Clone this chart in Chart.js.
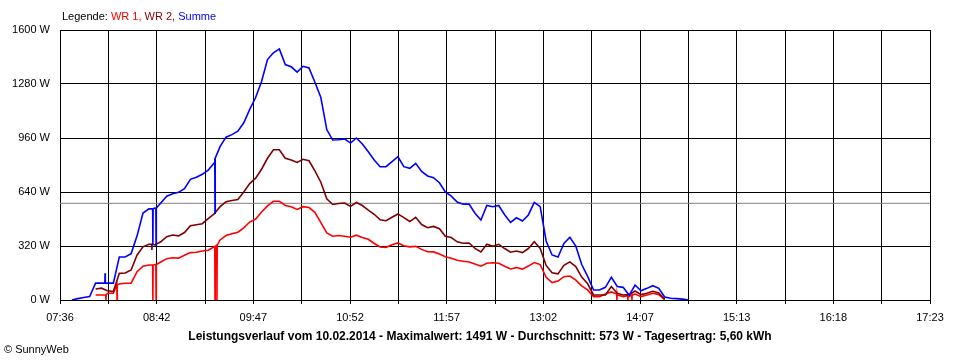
<!DOCTYPE html>
<html>
<head>
<meta charset="utf-8">
<script src="https://cdn.jsdelivr.net/npm/chart.js@4.4.1/dist/chart.umd.min.js"></script>
<style>
  body { margin: 0; background: #fff; }
  #wrap { position: relative; width: 960px; height: 360px; font-family: "Liberation Sans", Arial, sans-serif; font-size: 11px; color: #000; }
  #legende { position: absolute; left: 62px; top: 10px; }
  #titel { position: absolute; left: 0; width: 960px; top: 329px; text-align: center; font-weight: bold; font-size: 12px; }
  #copy { position: absolute; left: 4px; top: 343px; }
</style>
</head>
<body>
<div id="wrap">
  <canvas id="chart" width="960" height="360"></canvas>
  <div id="legende">Legende: <span style="color:#ff0000">WR 1,</span> <span style="color:#800000">WR 2,</span> <span style="color:#0000ff">Summe</span></div>
  <div id="titel">Leistungsverlauf vom 10.02.2014 - Maximalwert: 1491 W - Durchschnitt: 573 W - Tagesertrag: 5,60 kWh</div>
  <div id="copy">© SunnyWeb</div>
</div>
<script>
// Achsenbeschriftung
const timeLabels = ["07:36", "08:42", "09:47", "10:52", "11:57", "13:02", "14:07", "15:13", "16:18", "17:23"];
const yTicks = [0, 320, 640, 960, 1280, 1600];
const average = 573;

// Messzeitpunkte (alle 4 Minuten)
const times = [
  "07:40", "07:44", "07:48", "07:52", "07:56", "08:00", "08:04", "08:08", "08:12", "08:16",
  "08:20", "08:24", "08:28", "08:32", "08:36", "08:40", "08:44", "08:48", "08:52", "08:56",
  "09:00", "09:04", "09:08", "09:12", "09:16", "09:20", "09:24", "09:28", "09:32", "09:36",
  "09:40", "09:44", "09:48", "09:52", "09:56", "10:00", "10:04", "10:08", "10:12", "10:16",
  "10:20", "10:24", "10:28", "10:32", "10:36", "10:40", "10:44", "10:48", "10:52", "10:56",
  "11:00", "11:04", "11:08", "11:12", "11:16", "11:20", "11:24", "11:28", "11:32", "11:36",
  "11:40", "11:44", "11:48", "11:52", "11:56", "12:00", "12:04", "12:08", "12:12", "12:16",
  "12:20", "12:24", "12:28", "12:32", "12:36", "12:40", "12:44", "12:48", "12:52", "12:56",
  "13:00", "13:04", "13:08", "13:12", "13:16", "13:20", "13:24", "13:28", "13:32", "13:36",
  "13:40", "13:44", "13:48", "13:52", "13:56", "14:00", "14:04", "14:08", "14:12", "14:16",
  "14:20", "14:24", "14:28", "14:32", "14:36", "14:40"
];

// Leistung in W
const summe = [
  null, 0, 8, 15, 20, 100, 100, 100, 100, 255,
  255, 275, 380, 515, 540, 545, 575, 615, 630, 638,
  660, 715, 728, 745, 770, 812, 909, 965, 980, 1000,
  1050, 1130, 1200, 1295, 1425, 1465, 1488, 1395, 1382, 1350,
  1385, 1375, 1290, 1200, 1010, 948, 950, 955, 930, 960,
  925, 879, 830, 790, 790, 820, 849, 790, 780, 810,
  762, 735, 725, 695, 640, 615, 580, 568, 569, 514,
  474, 560, 553, 560, 505, 460, 487, 468, 504, 578,
  553, 350, 267, 255, 335, 372, 320, 210, 140, 59,
  59, 75, 135, 80, 75, 28, 89, 55, 69, 85,
  69, 18, 10, 8, 5, 0
];
const wr2 = [
  null, null, null, null, null, 65, 70, 55, 50, 158,
  160, 178, 267, 315, 330, 326, 345, 375, 385, 380,
  400, 440, 446, 452, 482, 510, 553, 582, 590, 595,
  640, 690, 722, 775, 840, 890, 890, 840, 830, 815,
  834, 825, 765, 698, 600, 566, 572, 575, 555, 578,
  560, 533, 508, 475, 470, 490, 510, 488, 465, 490,
  447, 428, 436, 422, 378, 370, 345, 336, 338, 306,
  285, 330, 318, 330, 305, 283, 290, 281, 305, 345,
  305, 205, 162, 155, 205, 226, 198, 136, 96, 30,
  30, 30, 80, 40, 30, 32, 53, 32, 40, 52,
  42, 5, null, null, null, null
];
const wr1 = [
  null, null, null, null, null, 30, 30, 40, 40, 95,
  99, 100, 168, 200, 207, 210, 225, 245, 250, 248,
  265, 281, 283, 290, 295, 315, 356, 382, 393, 402,
  428, 462, 480, 522, 558, 585, 585, 560, 553, 537,
  553, 548, 520, 458, 398, 378, 382, 378, 372, 384,
  370, 360, 335, 314, 312, 328, 338, 322, 315, 318,
  300, 286, 285, 272, 256, 248, 235, 230, 225, 213,
  200, 218, 221, 218, 200, 184, 192, 183, 201, 222,
  210, 135, 103, 112, 138, 142, 118, 84, 60, 20,
  20, 35, 48, 30, 20, 20, 35, 20, 30, 40,
  32, 2, null, null, null, null
];

// kurze Einbrüche / Spitzen
const summeSpikeTimes = ["08:06:25", "08:38:40", "08:40:50", "09:20:35"];
const summeSpikeLevels = [100, 540, 545, 840];
const summeSpikeLows = [158, 326, 326, 515];
const wr2SpikeTimes = ["08:38:00"];
const wr2SpikeLevels = [330];
const wr2SpikeLows = [296];
const wr1SpikeTimes = ["08:07:00", "08:14:30", "08:38:40", "08:40:50", "09:20:35", "09:21:55", "13:51:45", "13:59:10", "14:01:55"];
const wr1SpikeLevels = [30, 90, 207, 210, 318, 325, 35, 25, 30];
const wr1SpikeLows = [0, 0, 0, 0, 0, 0, 0, 0, 0];

function parseTime(s) {
  const p = s.split(":").map(Number);
  return p[0] * 60 + p[1] + (p[2] || 0) / 60;
}

function buildSeries(values, spikeTimes, spikeLevels, spikeLows) {
  const pts = [];
  times.forEach((t, i) => {
    if (values[i] !== null) pts.push({ x: parseTime(t), y: values[i] });
  });
  spikeTimes.forEach((t, i) => {
    const x = parseTime(t);
    pts.push({ x: x - 0.15, y: spikeLevels[i] }, { x: x, y: spikeLows[i] }, { x: x + 0.15, y: spikeLevels[i] });
  });
  pts.sort((a, b) => a.x - b.x);
  return pts;
}

const xMin = parseTime(timeLabels[0]);
const xMax = parseTime(timeLabels[timeLabels.length - 1]);
const xStep = (xMax - xMin) / ((timeLabels.length - 1) * 2);
const tickFont = { family: "'Liberation Sans', Arial, sans-serif", size: 11 };

new Chart(document.getElementById("chart"), {
  type: "line",
  data: {
    datasets: [
      { label: "Summe", data: buildSeries(summe, summeSpikeTimes, summeSpikeLevels, summeSpikeLows), borderColor: "#0000ff", order: 0 },
      { label: "WR 2", data: buildSeries(wr2, wr2SpikeTimes, wr2SpikeLevels, wr2SpikeLows), borderColor: "#800000", order: 1 },
      { label: "WR 1", data: buildSeries(wr1, wr1SpikeTimes, wr1SpikeLevels, wr1SpikeLows), borderColor: "#ff0000", order: 2 },
      { label: "Durchschnitt", data: [{ x: xMin, y: average }, { x: xMax, y: average }], borderColor: "#808080", borderWidth: 1, order: 3 }
    ]
  },
  options: {
    responsive: false,
    animation: false,
    layout: { padding: { top: 30, right: 30, left: 0, bottom: 0 } },
    plugins: { legend: { display: false }, tooltip: { enabled: false } },
    elements: { point: { radius: 0 }, line: { tension: 0, borderWidth: 1.6 } },
    scales: {
      x: {
        type: "linear",
        min: xMin,
        max: xMax,
        afterBuildTicks: (axis) => {
          axis.ticks = [];
          for (let i = 0; i <= (timeLabels.length - 1) * 2; i++) axis.ticks.push({ value: xMin + i * xStep });
        },
        afterFit: (axis) => { axis.height = 60; },
        ticks: {
          autoSkip: false,
          maxRotation: 0,
          padding: 7,
          color: "#000",
          font: tickFont,
          callback: (v, i) => (i % 2 === 0 ? timeLabels[i / 2] : "")
        },
        grid: { color: "#000", lineWidth: 1, tickLength: 4 },
        border: { color: "#000" }
      },
      y: {
        min: 0,
        max: 1600,
        afterBuildTicks: (axis) => { axis.ticks = yTicks.map((v) => ({ value: v })); },
        afterFit: (axis) => { axis.width = 60; },
        ticks: { padding: 10, color: "#000", font: tickFont, callback: (v) => v + " W" },
        grid: { color: "#000", lineWidth: 1, drawTicks: false },
        border: { color: "#000" }
      }
    }
  }
});
</script>
</body>
</html>
